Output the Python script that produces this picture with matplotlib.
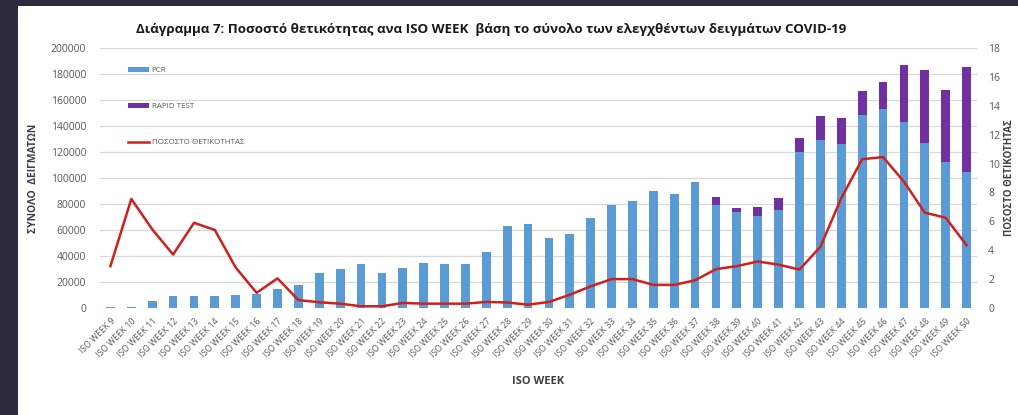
import numpy as np
import matplotlib.pyplot as plt
from matplotlib.patches import Patch, Rectangle
from matplotlib.lines import Line2D

plt.rcParams['font.family'] = ['Open Sans', 'DejaVu Sans']

WEEKS = list(range(9, 51))
WEEK_LABELS = ["ISO WEEK %d" % w for w in WEEKS]

PCR = [800, 800, 5100, 9500, 9000, 9500, 10300, 11000, 14300, 18000,
       27000, 29800, 33800, 27000, 31000, 34800, 34000, 34000, 43000, 62800,
       64500, 53500, 57200, 69500, 79500, 82000, 90000, 88000, 96800, 79200,
       74000, 71000, 75300, 120300, 129000, 126300, 148800, 153000, 143300, 127300,
       112300, 104500]

RAPID = [0] * 29 + [5900, 3100, 6400, 9600, 10300, 19000, 19700, 18300,
                    20800, 43400, 56000, 55600, 80600]

POSITIVITY = [2.9, 7.55, 5.45, 3.7, 5.9, 5.4, 2.8, 1.05, 2.05, 0.55,
              0.4, 0.3, 0.12, 0.12, 0.35, 0.3, 0.3, 0.3, 0.42, 0.38,
              0.23, 0.42, 0.92, 1.5, 2.0, 2.0, 1.6, 1.6, 1.92, 2.69,
              2.9, 3.22, 3.0, 2.66, 4.24, 7.6, 10.3, 10.45, 8.75, 6.6,
              6.25, 4.35]

BLUE = "#5b9bd5"
PURPLE = "#7030a0"
RED = "#d0201c"
GRAY = "#595959"
DARK = "#2e2b3e"

fig = plt.figure(figsize=(10.18, 4.15), dpi=100, facecolor="white")

# dark frame from the screenshot (left and top edges)
fig.patches.append(Rectangle((0, 0), 18 / 1018, 1, transform=fig.transFigure,
                             facecolor=DARK, edgecolor="none", zorder=0))
fig.patches.append(Rectangle((0, 1 - 6 / 415), 1, 6 / 415, transform=fig.transFigure,
                             facecolor=DARK, edgecolor="none", zorder=0))

ax = fig.add_axes([100 / 1018, 1 - 308 / 415, 877 / 1018, 260 / 415])
x = np.arange(len(WEEKS))

ax.bar(x, PCR, width=0.42, color=BLUE, zorder=2)
ax.bar(x, RAPID, width=0.42, bottom=PCR, color=PURPLE, zorder=2)

ax.set_xlim(-0.5, len(WEEKS) - 0.5)
ax.set_ylim(0, 200000)
ax.set_yticks(np.arange(0, 200001, 20000))
ax.grid(axis="y", color="#d9d9d9", linewidth=0.9, zorder=0)
for s in ax.spines.values():
    s.set_visible(False)
ax.tick_params(axis="both", length=0, colors=GRAY)
ax.tick_params(axis="y", labelsize=7.5, pad=10)
ax.set_xticks(x)
ax.set_xticklabels(WEEK_LABELS, rotation=45, ha="right", rotation_mode="anchor",
                   fontsize=6.2, color=GRAY)
ax.tick_params(axis="x", pad=6)
ax.set_ylabel("ΣΥΝΟΛΟ  ΔΕΙΓΜΑΤΩΝ", fontsize=7.5, fontweight="bold",
              color="#404040", labelpad=8)
ax.set_xlabel("ISO WEEK", fontsize=8, fontweight="bold", color="#404040", labelpad=12)

ax2 = ax.twinx()
ax2.plot(x, POSITIVITY, color=RED, linewidth=1.8, solid_joinstyle="round", zorder=3)
ax2.set_ylim(0, 18)
ax2.set_yticks(np.arange(0, 19, 2))
for s in ax2.spines.values():
    s.set_visible(False)
ax2.tick_params(axis="y", length=0, colors=GRAY, labelsize=7.5, pad=8)
ax2.set_ylabel("ΠΟΣΟΣΤΟ ΘΕΤΙΚΟΤΗΤΑΣ", fontsize=7, fontweight="bold",
               color="#404040", labelpad=3)

handles = [
    Patch(facecolor=BLUE, label="PCR"),
    Patch(facecolor=PURPLE, label="RAPID TEST"),
    Line2D([0], [0], color=RED, linewidth=1.8, label="ΠΟΣΟΣΤΟ ΘΕΤΙΚΟΤΗΤΑΣ"),
]
leg = ax2.legend(handles=handles, loc="upper left", bbox_to_anchor=(0.024, 0.955),
                 frameon=False, fontsize=5.8, labelspacing=3.6, handlelength=2.6,
                 handleheight=0.5, handletextpad=0.3)
for t in leg.get_texts():
    t.set_color(GRAY)

fig.text(491 / 1018, 1 - 30 / 415,
         "Διάγραμμα 7: Ποσοστό θετικότητας ανα ISO WEEK  βάση το σύνολο των ελεγχθέντων δειγμάτων COVID-19",
         ha="center", va="center", fontsize=9.6, fontweight="bold", color="#1a1a1a")

fig.savefig("out.png", dpi=100, facecolor="white")
